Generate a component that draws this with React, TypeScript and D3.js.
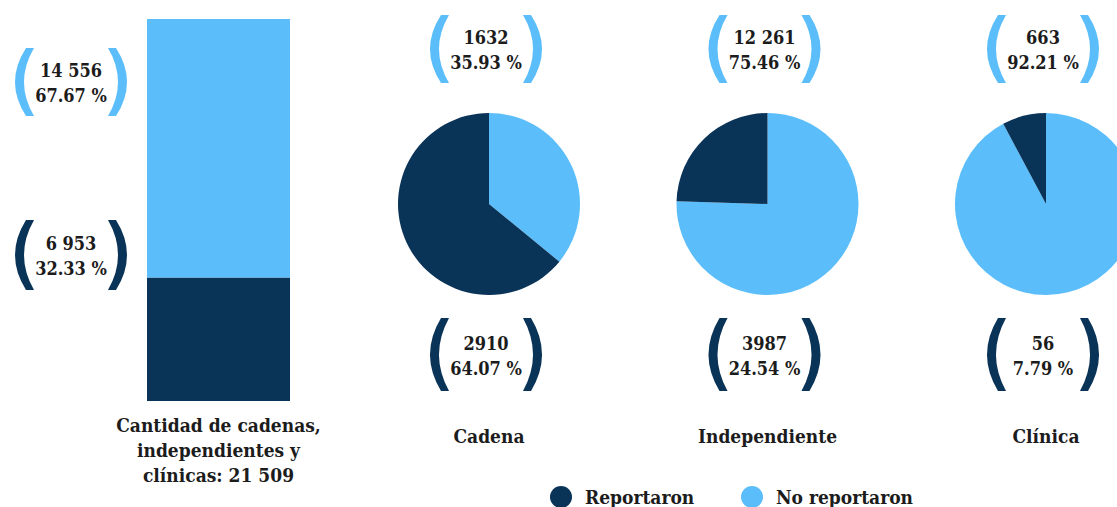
import React from "react";
import * as d3 from "d3";

const categories = ["Cadena", "Independiente", "Clínica"];
const reportaron = [2910, 3987, 56];
const noReportaron = [1632, 12261, 663];
const reportaronLabels = ["2910", "3987", "56"];
const noReportaronLabels = ["1632", "12 261", "663"];
const totalLabel = "21 509";
const totalReportaronLabel = "6 953";
const totalNoReportaronLabel = "14 556";
const seriesNames = ["Reportaron", "No reportaron"];

const W = 1117;
const H = 507;
const DARK = "#0a3358";
const LIGHT = "#5bbefa";
const TEXT = "#1c1c1c";
const FONT = "'DejaVu Serif Condensed', 'DejaVu Serif', serif";
const FS = 18;

const pct = (a: number, t: number) => ((a / t) * 100).toFixed(2) + " %";

function Bracket({ cx, y0, y1, color }: { cx: number; y0: number; y1: number; color: string }) {
  const ym = (y0 + y1) / 2;
  const paths: string[] = [];
  for (const s of [-1, 1]) {
    const xoEnd = cx + s * 45;
    const xiEnd = cx + s * 37;
    const xoMid = cx + s * 56;
    const xiMid = cx + s * 47;
    const p = d3.path();
    p.moveTo(xiEnd, y0);
    p.lineTo(xoEnd, y0);
    p.quadraticCurveTo(2 * xoMid - xoEnd, ym, xoEnd, y1);
    p.lineTo(xiEnd, y1);
    p.quadraticCurveTo(2 * xiMid - xiEnd, ym, xiEnd, y0);
    p.closePath();
    paths.push(p.toString());
  }
  return (
    <g>
      {paths.map((d, i) => (
        <path key={i} d={d} fill={color} />
      ))}
    </g>
  );
}

function Label({ cx, y0, y1, color, l1, l2 }: any) {
  const ym = (y0 + y1) / 2;
  return (
    <g>
      <Bracket cx={cx} y0={y0} y1={y1} color={color} />
      <text x={cx} y={ym - 5} textAnchor="middle" fontFamily={FONT} fontWeight="bold" fontSize={FS} fill={TEXT}>{l1}</text>
      <text x={cx} y={ym + 20} textAnchor="middle" fontFamily={FONT} fontWeight="bold" fontSize={FS} fill={TEXT}>{l2}</text>
    </g>
  );
}

export default function App() {
  const total = d3.sum(reportaron) + d3.sum(noReportaron);
  const totRep = d3.sum(reportaron);
  const totNo = d3.sum(noReportaron);

  const barX0 = 147, barX1 = 290;
  const y = d3.scaleLinear().domain([0, total]).range([401, 19]);

  const pieXs = d3.scalePoint<string>().domain(categories).range([489, 1046]);
  const pieY = 204;
  const R = 91;
  const pie = d3.pie<number>().sort(null).value((d) => d);
  const arc = d3.arc<d3.PieArcDatum<number>>().innerRadius(0).outerRadius(R);
  const colorsPie = [LIGHT, DARK];

  return (
    <svg width={W} height={H} style={{ position: "absolute", left: 0, top: 0, background: "#fff" }}>
      <rect x={barX0} y={y(totRep)} width={barX1 - barX0} height={y(0) - y(totRep)} fill={DARK} />
      <rect x={barX0} y={y(total)} width={barX1 - barX0} height={y(totRep) - y(total)} fill={LIGHT} />
      <Label cx={71} y0={48} y1={116} color={LIGHT} l1={totalNoReportaronLabel} l2={pct(totNo, total)} />
      <Label cx={71} y0={220} y1={290} color={DARK} l1={totalReportaronLabel} l2={pct(totRep, total)} />
      {["Cantidad de cadenas,", "independientes y", "clínicas: " + totalLabel].map((t, i) => (
        <text key={i} x={(barX0 + barX1) / 2} y={432 + i * 25} textAnchor="middle" fontFamily={FONT} fontWeight="bold" fontSize={FS + 1} fill={TEXT}>{t}</text>
      ))}

      {categories.map((c, i) => {
        const cx = pieXs(c)!;
        const arcs = pie([noReportaron[i], reportaron[i]]);
        const t = noReportaron[i] + reportaron[i];
        return (
          <g key={c}>
            <g transform={`translate(${cx},${pieY})`}>
              {arcs.map((a, j) => (
                <path key={j} d={arc(a)!} fill={colorsPie[j]} />
              ))}
            </g>
            <Label cx={cx - 3} y0={15} y1={83} color={LIGHT} l1={noReportaronLabels[i]} l2={pct(noReportaron[i], t)} />
            <Label cx={cx - 3} y0={318} y1={391} color={DARK} l1={reportaronLabels[i]} l2={pct(reportaron[i], t)} />
            <text x={cx} y={443} textAnchor="middle" fontFamily={FONT} fontWeight="bold" fontSize={FS + 1} fill={TEXT}>{c}</text>
          </g>
        );
      })}

      {seriesNames.map((n, i) => {
        const x = i === 0 ? 561 : 752;
        return (
          <g key={n}>
            <circle cx={x} cy={497} r={11} fill={i === 0 ? DARK : LIGHT} />
            <text x={x + 24} y={504} fontFamily={FONT} fontWeight="bold" fontSize={FS + 1} fill={TEXT}>{n}</text>
          </g>
        );
      })}
    </svg>
  );
}
